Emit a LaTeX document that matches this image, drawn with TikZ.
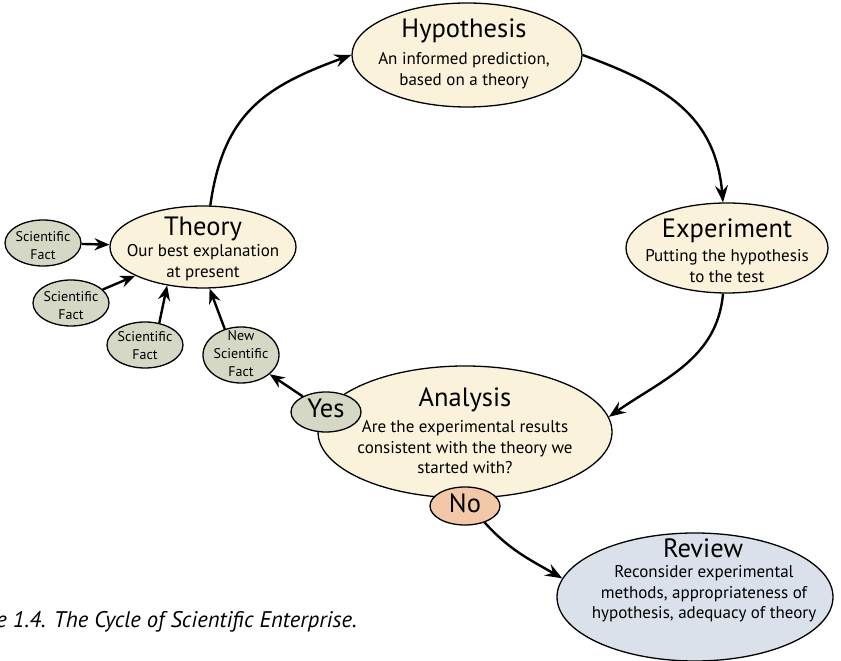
\documentclass[tikz,border=0pt]{standalone}
\usepackage{fontspec}
\setmainfont{PT Sans}
\usetikzlibrary{shapes.geometric,arrows.meta}
\definecolor{cream}{RGB}{251,242,220}
\definecolor{factgreen}{RGB}{212,216,196}
\definecolor{nosalmon}{RGB}{243,200,168}
\definecolor{reviewblue}{RGB}{219,225,235}
\newcommand{\titlefont}{\fontsize{26.5}{28}\selectfont}
\newcommand{\bodyfont}{\fontsize{17}{20.5}\selectfont}
\newcommand{\factfont}{\fontsize{14}{18}\selectfont}
\newcommand{\lines}[1]{\begin{tabular}[t]{@{}c@{}}#1\end{tabular}}
\begin{document}
\begin{tikzpicture}[x=1pt,y=1pt,
  bubble/.style={ellipse,draw=black,line width=1.3pt,inner sep=0pt},
  bigbubble/.style={bubble,fill=cream},
  factbubble/.style={bubble,fill=factgreen,minimum width=76pt,minimum height=46pt},
  ttl/.style={anchor=base,inner sep=0pt,font=\titlefont},
  body/.style={anchor=base,inner sep=0pt,font=\bodyfont},
  fact/.style={anchor=base,inner sep=0pt,font=\factfont},
  flow/.style={line width=2.4pt,-{Stealth[length=17pt,width=13pt,inset=6pt]}},
  small/.style={line width=2.4pt,-{Stealth[length=15pt,width=12pt,inset=5pt]}}]
\useasboundingbox (0,0) rectangle (841,661);
\clip (0,0) rectangle (841,661);
% main ellipses
\node[bigbubble,minimum width=230pt,minimum height=104pt] (hyp) at (467,606) {};
\node[bigbubble,minimum width=186pt,minimum height=82pt] (theory) at (203,414) {};
\node[bigbubble,minimum width=202pt,minimum height=90pt] (exp) at (727,413) {};
\node[bigbubble,minimum width=294pt,minimum height=132pt] (ana) at (465,229) {};
\node[bubble,fill=reviewblue,minimum width=276pt,minimum height=128pt] (rev) at (695,64) {};
% small ellipses
\node[factbubble] (sf1) at (43,418) {};
\node[factbubble] (sf2) at (71,358) {};
\node[factbubble] (sf3) at (145,316) {};
\node[factbubble,minimum height=56pt] (nsf) at (241,306) {};
\node[bubble,fill=factgreen,minimum width=70pt,minimum height=40pt] (yes) at (326,249) {};
\node[bubble,fill=nosalmon,minimum width=70pt,minimum height=38pt] (no) at (465,155) {};
% texts
\node[ttl] (hypT) at (464,623) {Hypothesis};
\node[body] (hypB) at (464,596) {\lines{An informed prediction,\\based on a theory}};
\node[ttl] (thT) at (203,425) {Theory};
\node[body] (thB) at (203,404) {\lines{Our best explanation\\at present}};
\node[ttl] (exT) at (727,423) {Experiment};
\node[body] (exB) at (727,399) {\lines{Putting the hypothesis\\to the test}};
\node[ttl] (anT) at (465,254) {Analysis};
\node[body] (anB) at (465,228) {\lines{Are the experimental results\\consistent with the theory we\\started with?}};
\node[ttl] (rvT) at (703,103) {Review};
\node[body] (rvB) at (704,83) {\lines{Reconsider experimental\\methods, appropriateness of\\hypothesis, adequacy of theory}};
\node[fact] (sf1T) at (43,419) {\lines{Scientific\\Fact}};
\node[fact] (sf2T) at (71,359) {\lines{Scientific\\Fact}};
\node[fact] (sf3T) at (145,319) {\lines{Scientific\\Fact}};
\node[fact] (nsfT) at (241,320) {\lines{New\\Scientific\\Fact}};
\node[ttl] (yesT) at (326,243) {Yes};
\node[ttl] (noT) at (465,148) {No};
% caption (cut off at the left edge, as in the reference)
\node[anchor=base east,inner sep=0pt,font=\fontsize{22.6}{24}\selectfont\itshape] (cap) at (357,33) {Figure 1.4. The Cycle of Scientific Enterprise.};
% connectors
\draw[flow] (theory.80) to[out=82,in=200,looseness=1.15] (hyp.west);
\draw[flow] (hyp.east) to[out=-20,in=95,looseness=1.1] (exp.95);
\draw[flow] (exp.265) to[out=-95,in=35,looseness=1.0] (ana.6);
\draw[flow] (no.-40) to[out=-48,in=150] (rev.172);
\draw[small] (sf1) -- (theory);
\draw[small] (sf2) -- (theory);
\draw[small] (sf3.57) -- (theory.227);
\draw[small] (nsf.122) -- (theory.279);
\draw[small] (yes) -- (nsf);
\end{tikzpicture}
\end{document}
